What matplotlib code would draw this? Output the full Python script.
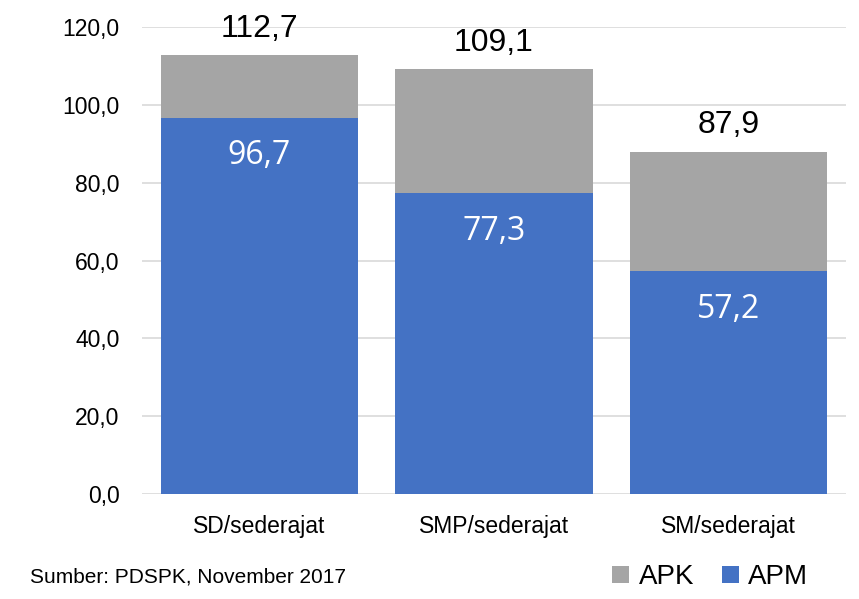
import matplotlib
matplotlib.use("Agg")
import matplotlib.pyplot as plt
import numpy as np

categories = ["SD/sederajat", "SMP/sederajat", "SM/sederajat"]
apk = [112.7, 109.1, 87.9]
apm = [96.7, 77.3, 57.2]

GREY = "#A5A5A5"
BLUE = "#4472C4"

plt.rcParams["font.family"] = ["Liberation Sans", "DejaVu Sans"]

fig = plt.figure(figsize=(8.59, 5.99), dpi=100)
ax = fig.add_axes([0.165, 0.175, 0.82, 0.78])

x = np.arange(len(categories))
width = 0.84
ax.bar(x, apk, width, color=GREY, label="APK", zorder=2)
ax.bar(x, apm, width, color=BLUE, label="APM", zorder=3)

def fmt(v):
    return f"{v:.1f}".replace(".", ",")

# APK totals above the bars, APM values inside the blue part
for xi, v in zip(x, apk):
    ax.text(xi, v + 6.8, fmt(v), ha="center", va="center", fontsize=23, color="black")
for xi, v in zip(x, apm):
    ax.text(xi, v - 9.8, fmt(v), ha="center", va="center", fontsize=23, color="white",
            family="Open Sans")

ax.set_xlim(-0.5, 2.5)
ax.set_ylim(0, 120)
ax.set_yticks(np.arange(0, 121, 20))
ax.set_yticklabels([fmt(v) for v in np.arange(0, 121, 20)], fontsize=16.5)
ax.set_xticks(x)
ax.set_xticklabels(categories, fontsize=16.5)
ax.tick_params(axis="y", length=0, pad=16)
ax.tick_params(axis="x", length=0, pad=15)
ax.grid(axis="y", color="#D9D9D9", linewidth=1.2, zorder=0)
for s in ax.spines.values():
    s.set_visible(False)

fig.text(0.035, 0.036, "Sumber: PDSPK, November 2017", fontsize=15, ha="left", va="center")

handles, labels = ax.get_legend_handles_labels()
fig.legend(handles, labels, loc="center right", bbox_to_anchor=(0.97, 0.036), ncol=2,
           frameon=False, fontsize=20, handlelength=0.6, handleheight=0.6,
           handletextpad=0.35, columnspacing=1.0)

fig.savefig("out.png", dpi=100)
